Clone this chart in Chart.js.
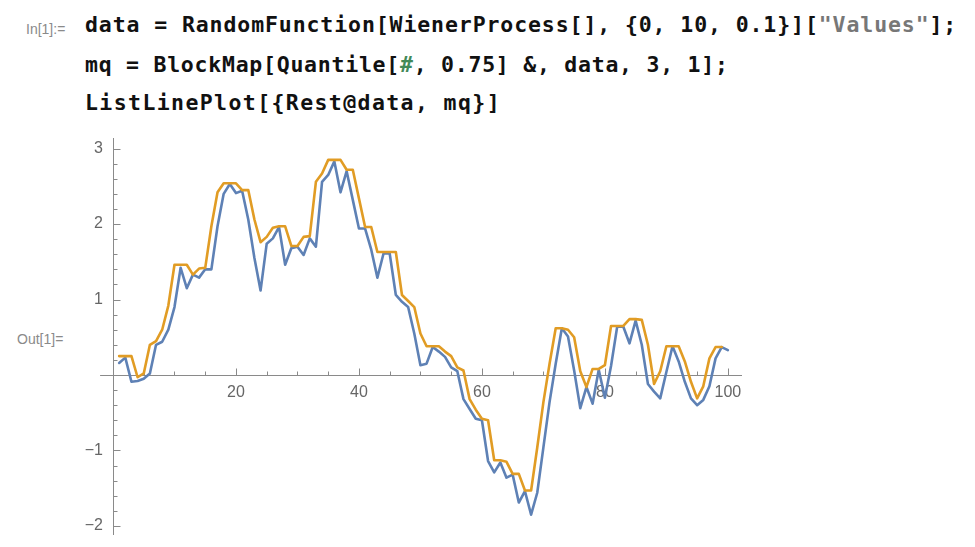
<!DOCTYPE html>
<html>
<head>
<meta charset="utf-8">
<title>ListLinePlot</title>
<script src="https://cdn.jsdelivr.net/npm/chart.js@4.4.1/dist/chart.umd.min.js"></script>
<style>
  html, body { margin: 0; padding: 0; background: #fff; }
  body { width: 975px; height: 547px; position: relative; overflow: hidden; }
  .tag { position: absolute; font-family: "Liberation Sans", Arial, sans-serif; font-size: 14px; color: #8a8a8a; line-height: 16px; }
  .code { position: absolute; left: 85px; font-family: "DejaVu Sans Mono", monospace; font-weight: bold;
          font-size: 21.5px; letter-spacing: 0.75px; line-height: 25px; white-space: pre; color: #111; }
  .str { color: #777; }
  .slot { color: #438958; }
  #wrap { position: absolute; left: 0; top: 0; width: 975px; height: 547px; }
</style>
</head>
<body>
<div class="tag" style="left:26px; top:21px;">In[1]:=</div>
<div class="code" style="top:12px; letter-spacing:0.9px;">data = RandomFunction[WienerProcess[], {0, 10, 0.1}][<span class="str">"Values"</span>];</div>
<div class="code" style="top:52px;">mq = BlockMap[Quantile[<span class="slot">#</span>, 0.75] &amp;, data, 3, 1];</div>
<div class="code" style="top:90px; letter-spacing:1.4px;">ListLinePlot[{Rest@data, mq}]</div>
<div class="tag" style="left:17px; top:331px;">Out[1]=</div>
<div id="wrap"><canvas id="plot" width="975" height="547"></canvas></div>

<script>
document.addEventListener("DOMContentLoaded", function() {
    // Rest@data : 100 values, plotted at x = 1..100
    const dataValues = [
        0.16, 0.23, -0.09, -0.08, -0.05, 0.02, 0.40, 0.44, 0.60, 0.90,
        1.42, 1.15, 1.33, 1.29, 1.40, 1.40, 1.97, 2.40, 2.53, 2.41,
        2.44, 2.06, 1.55, 1.12, 1.74, 1.81, 1.96, 1.46, 1.68, 1.70,
        1.59, 1.81, 1.70, 2.56, 2.65, 2.83, 2.42, 2.70, 2.32, 1.94,
        1.94, 1.66, 1.29, 1.61, 1.61, 1.06, 0.97, 0.90, 0.55, 0.13,
        0.15, 0.37, 0.31, 0.24, 0.10, 0.05, -0.32, -0.45, -0.58, -0.60,
        -1.14, -1.29, -1.16, -1.36, -1.32, -1.69, -1.54, -1.85, -1.56, -0.96,
        -0.36, 0.15, 0.62, 0.51, 0.06, -0.44, -0.16, -0.38, 0.07, -0.30,
        0.12, 0.64, 0.64, 0.42, 0.72, 0.40, -0.12, -0.22, -0.31, 0.04,
        0.38, 0.18, -0.09, -0.31, -0.40, -0.33, -0.15, 0.22, 0.37, 0.33
    ];
    // mq : 99 values, plotted at x = 1..99
    const mqValues = [
        0.25, 0.25, 0.25, -0.03, 0.02, 0.40, 0.45, 0.60, 0.92, 1.46,
        1.46, 1.46, 1.33, 1.41, 1.42, 1.97, 2.42, 2.54, 2.54, 2.54,
        2.45, 2.45, 2.06, 1.76, 1.83, 1.95, 1.97, 1.97, 1.71, 1.71,
        1.83, 1.84, 2.56, 2.67, 2.85, 2.85, 2.85, 2.72, 2.72, 2.34,
        1.96, 1.96, 1.63, 1.63, 1.63, 1.63, 1.06, 0.98, 0.90, 0.55,
        0.38, 0.38, 0.38, 0.31, 0.25, 0.10, 0.06, -0.32, -0.46, -0.58,
        -0.60, -1.13, -1.13, -1.15, -1.31, -1.31, -1.53, -1.53, -0.96, -0.36,
        0.15, 0.62, 0.62, 0.60, 0.50, 0.05, -0.16, 0.08, 0.08, 0.13,
        0.65, 0.65, 0.65, 0.74, 0.74, 0.73, 0.40, -0.12, 0.05, 0.38,
        0.38, 0.38, 0.18, -0.09, -0.31, -0.15, 0.22, 0.37, 0.37
    ];
    const xTickLabels = [20, 40, 60, 80, 100];
    const yTickLabels = [-2, -1, 1, 2, 3];

    const toPoints = values => values.map((v, i) => ({ x: i + 1, y: v }));

    // keep the layout fixed: no extra room for overflowing labels
    const noRoom = scale => {
        scale.paddingTop = scale.paddingBottom = scale.paddingLeft = scale.paddingRight = 0;
        if (scale.isHorizontal()) scale.height = 0; else scale.width = 40;
    };

    // Mathematica style axes: crossing at the origin, ticks pointing inward,
    // the horizontal one running a little past the vertical one
    const mmaAxes = {
        id: "mmaAxes",
        beforeDatasetsDraw(chart) {
            const { ctx, chartArea, scales: { x, y } } = chart;
            const x0 = Math.round(x.getPixelForValue(0)) + 0.5;
            const y0 = Math.round(y.getPixelForValue(0)) + 0.5;
            ctx.save();
            ctx.strokeStyle = "#8a8a8a";
            ctx.lineWidth = 1;
            ctx.beginPath();
            ctx.moveTo(x.getPixelForValue(-2.1), y0);
            ctx.lineTo(chartArea.right, y0);
            ctx.moveTo(x0, chartArea.top);
            ctx.lineTo(x0, chartArea.bottom);
            for (let v = 5; v <= x.max; v += 5) {
                const px = Math.round(x.getPixelForValue(v)) + 0.5;
                ctx.moveTo(px, y0);
                ctx.lineTo(px, y0 - (v % 20 === 0 ? 7 : 4));
            }
            for (let k = Math.ceil(y.min * 5); k <= Math.floor(y.max * 5); k++) {
                if (k === 0) continue;
                const py = Math.round(y.getPixelForValue(k / 5)) + 0.5;
                ctx.moveTo(x0, py);
                ctx.lineTo(x0 + (k % 5 === 0 ? 7 : 4), py);
            }
            ctx.stroke();
            ctx.restore();
        }
    };

    const ctx = document.getElementById("plot").getContext("2d");
    new Chart(ctx, {
        type: "line",
        data: {
            datasets: [{
                label: "Rest@data",
                data: toPoints(dataValues),
                borderColor: "#5E81B5",
                borderWidth: 2.6,
                pointRadius: 0,
                order: 2
            }, {
                label: "mq",
                data: toPoints(mqValues),
                borderColor: "#E19C24",
                borderWidth: 2.6,
                pointRadius: 0,
                order: 1
            }]
        },
        options: {
            responsive: false,
            animation: false,
            events: [],
            layout: { padding: { left: 73, right: 233, top: 138, bottom: 12 } },
            elements: { line: { tension: 0, borderJoinStyle: "round", borderCapStyle: "round" } },
            plugins: { legend: { display: false }, tooltip: { enabled: false } },
            scales: {
                x: {
                    type: "linear",
                    min: 0,
                    max: 102.3,
                    position: { y: 0 },
                    grid: { display: false, drawTicks: false },
                    border: { display: false },
                    afterBuildTicks: scale => { scale.ticks = xTickLabels.map(v => ({ value: v })); },
                    afterFit: noRoom,
                    ticks: {
                        padding: 8,
                        maxRotation: 0,
                        color: "#666",
                        font: { family: "Liberation Sans", size: 16 }
                    }
                },
                y: {
                    type: "linear",
                    min: -2.12,
                    max: 3.14,
                    position: "left",
                    grid: { display: false, drawTicks: false },
                    border: { display: false },
                    afterBuildTicks: scale => { scale.ticks = yTickLabels.map(v => ({ value: v })); },
                    afterFit: noRoom,
                    ticks: {
                        padding: 10,
                        color: "#666",
                        font: { family: "Liberation Sans", size: 16 },
                        callback: v => (v < 0 ? "\u2212" + Math.abs(v) : String(v))
                    }
                }
            }
        },
        plugins: [mmaAxes]
    });
});
</script>
</body>
</html>
